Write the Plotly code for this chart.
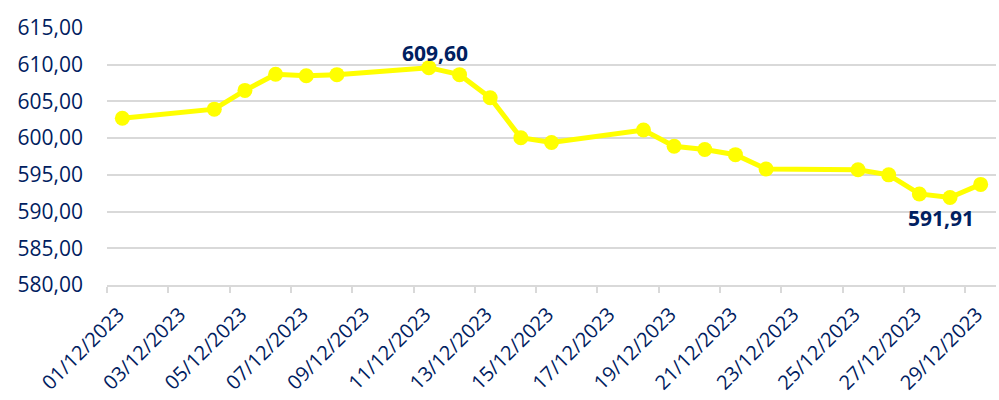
import pandas as pd
import plotly.graph_objects as go

# ---- data ----
dates = ["2023-12-01", "2023-12-04", "2023-12-05", "2023-12-06", "2023-12-07",
         "2023-12-08", "2023-12-11", "2023-12-12", "2023-12-13", "2023-12-14",
         "2023-12-15", "2023-12-18", "2023-12-19", "2023-12-20", "2023-12-21",
         "2023-12-22", "2023-12-25", "2023-12-26", "2023-12-27", "2023-12-28",
         "2023-12-29"]
values = [602.70, 603.95, 606.50, 608.70, 608.50,
          608.65, 609.60, 608.65, 605.50, 600.05,
          599.40, 601.10, 598.90, 598.45, 597.75,
          595.80, 595.70, 595.00, 592.40, 591.91,
          593.70]
tick_dates = ["2023-12-01", "2023-12-03", "2023-12-05", "2023-12-07", "2023-12-09",
              "2023-12-11", "2023-12-13", "2023-12-15", "2023-12-17", "2023-12-19",
              "2023-12-21", "2023-12-23", "2023-12-25", "2023-12-27", "2023-12-29"]
y_ticks = [580, 585, 590, 595, 600, 605, 610, 615]

NAVY = "#002060"
FONT = "Open Sans"

x = pd.to_datetime(dates)
tick_dt = pd.to_datetime(tick_dates)
# labels sit a little right of the category boundary ticks (Excel style)
label_pos = tick_dt - pd.Timedelta(hours=3)
tick_text = [d.strftime("%d/%m/%Y") for d in tick_dt]

def fmt(v):
    return f"{v:.2f}".replace(".", ",")

fig = go.Figure()
fig.add_trace(go.Scatter(
    x=x, y=values, mode="lines+markers",
    line=dict(color="#FFFF00", width=5),
    marker=dict(color="#FFFF00", size=15),
    cliponaxis=False, showlegend=False,
))

imax = values.index(max(values))
imin = values.index(min(values))
fig.add_annotation(x=x[imax], y=values[imax], text=f"<b>{fmt(values[imax])}</b>",
                   showarrow=False, yshift=15, xshift=6,
                   font=dict(family=FONT, size=21, color=NAVY))
fig.add_annotation(x=x[imin], y=values[imin], text=f"<b>{fmt(values[imin])}</b>",
                   showarrow=False, yshift=-20, xshift=-9,
                   font=dict(family=FONT, size=21, color=NAVY))

fig.update_layout(
    width=999, height=400,
    margin=dict(l=107, r=3, t=28, b=115),
    paper_bgcolor="white", plot_bgcolor="white",
    font=dict(family=FONT, size=21, color=NAVY),
    separators=",.",
)
fig.update_xaxes(
    type="date", automargin=False,
    range=[pd.Timestamp("2023-11-30 12:00"), pd.Timestamp("2023-12-29 12:00")],
    tickmode="array", tickvals=label_pos, ticktext=tick_text,
    tickangle=-45, ticks="", showgrid=False,
    ticklabelstandoff=8,
    showline=True, linecolor="#D9D9D9", linewidth=1.5,
    minor=dict(ticks="outside", ticklen=6, tickcolor="#D9D9D9", tickwidth=1.5,
               tick0=pd.Timestamp("2023-11-30 12:00"), dtick=2 * 86400000,
               showgrid=False),
    tickfont=dict(family=FONT, size=20, color=NAVY),
)
fig.update_yaxes(
    automargin=False,
    range=[580, 615], tickmode="array", tickvals=y_ticks, tickformat=".2f",
    showgrid=True, gridcolor="#D9D9D9", gridwidth=1.5,
    zeroline=False, showline=False, ticks="",
    ticklabelstandoff=23,
    tickfont=dict(family=FONT, size=21, color=NAVY),
)

fig.write_html("out.html", config={"displayModeBar": False},
               post_script="document.body.style.margin='0';document.body.style.overflow='hidden';")
